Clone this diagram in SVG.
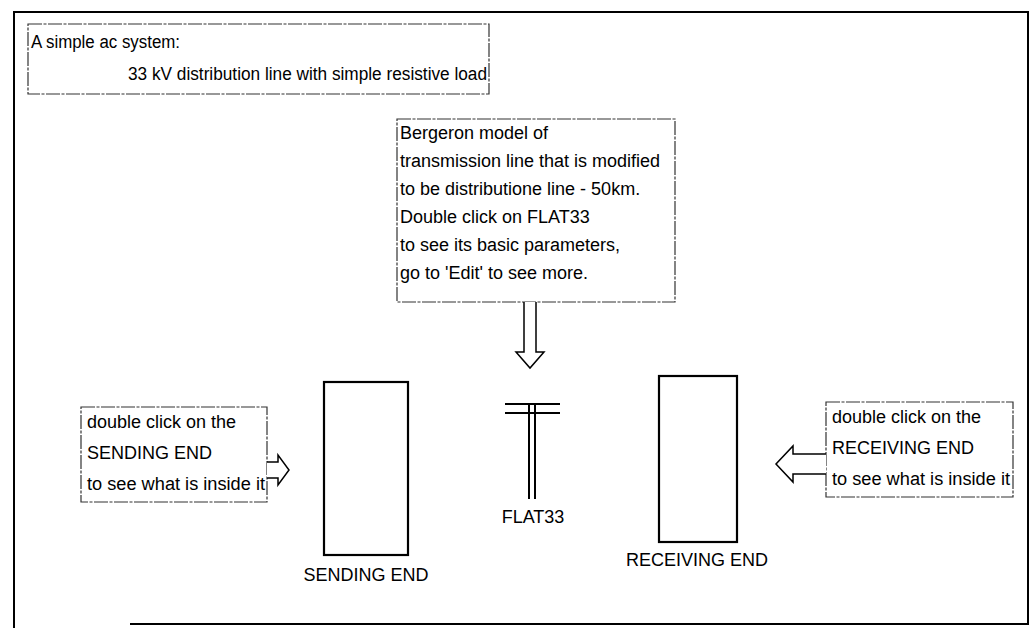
<svg xmlns="http://www.w3.org/2000/svg" width="1033" height="628" viewBox="0 0 1033 628">
<style>
text{font-family:"Liberation Sans",Arial,sans-serif;font-size:18px;fill:#000}
.note{fill:#fff;stroke:#333;stroke-width:1.2;stroke-dasharray:14 1.5 3 1.5}
.blk{fill:#fff;stroke:#000;stroke-width:2.2}
.ln{stroke:#000;stroke-width:2;fill:none}
.arr{fill:#fff;stroke:#000;stroke-width:1.5;stroke-linejoin:miter}
</style>
<rect width="1033" height="628" fill="#fff"/>
<g id="frame">
<path class="ln" d="M14,628 V12 H1028 V624 H130" stroke-width="2.5"/>
</g>
<g id="title">
<rect class="note" x="28" y="24" width="461" height="70"/>
<text x="31" y="48" textLength="149" lengthAdjust="spacingAndGlyphs">A simple ac system:</text>
<text x="128" y="80" textLength="359" lengthAdjust="spacingAndGlyphs">33 kV distribution line with simple resistive load</text>
</g>
<g id="bergeron-note">
<rect class="note" x="397" y="119" width="278" height="183"/>
<text x="400" y="139">Bergeron model of</text>
<text x="400" y="167">transmission line that is modified</text>
<text x="400" y="195">to be distributione line - 50km.</text>
<text x="400" y="223">Double click on FLAT33</text>
<text x="400" y="251">to see its basic parameters,</text>
<text x="400" y="279">go to 'Edit' to see more.</text>
</g>
<g id="sending-note">
<rect class="note" x="81" y="407" width="186" height="95"/>
<text x="87" y="428">double click on the</text>
<text x="87" y="459">SENDING END</text>
<text x="87" y="490" textLength="178" lengthAdjust="spacingAndGlyphs">to see what is inside it</text>
</g>
<g id="receiving-note">
<rect class="note" x="826" y="402" width="187" height="95"/>
<text x="832" y="423">double click on the</text>
<text x="832" y="454">RECEIVING END</text>
<text x="832" y="485" textLength="178" lengthAdjust="spacingAndGlyphs">to see what is inside it</text>
</g>
<g id="sending-end">
<rect class="blk" x="324" y="382" width="84" height="173"/>
<text x="366" y="581" text-anchor="middle">SENDING END</text>
</g>
<g id="flat33">
<path class="ln" d="M505,404 H560 M505,413 H560 M529,404 V499 M535,404 V499"/>
<text x="533" y="523" text-anchor="middle">FLAT33</text>
</g>
<g id="receiving-end">
<rect class="blk" x="659" y="376" width="78" height="166"/>
<text x="697" y="566" text-anchor="middle">RECEIVING END</text>
</g>
<g id="connectors">
<path class="arr" d="M524,302 V352 H516 L530,368 L544,352 H536 V302"/>
<path class="arr" d="M267,462 H278 V455 L289,470 L278,485 V478 H267"/>
<path class="arr" d="M826,454 H793 V446 L776,464 L793,482 V474 H826"/>
</g>
</svg>
